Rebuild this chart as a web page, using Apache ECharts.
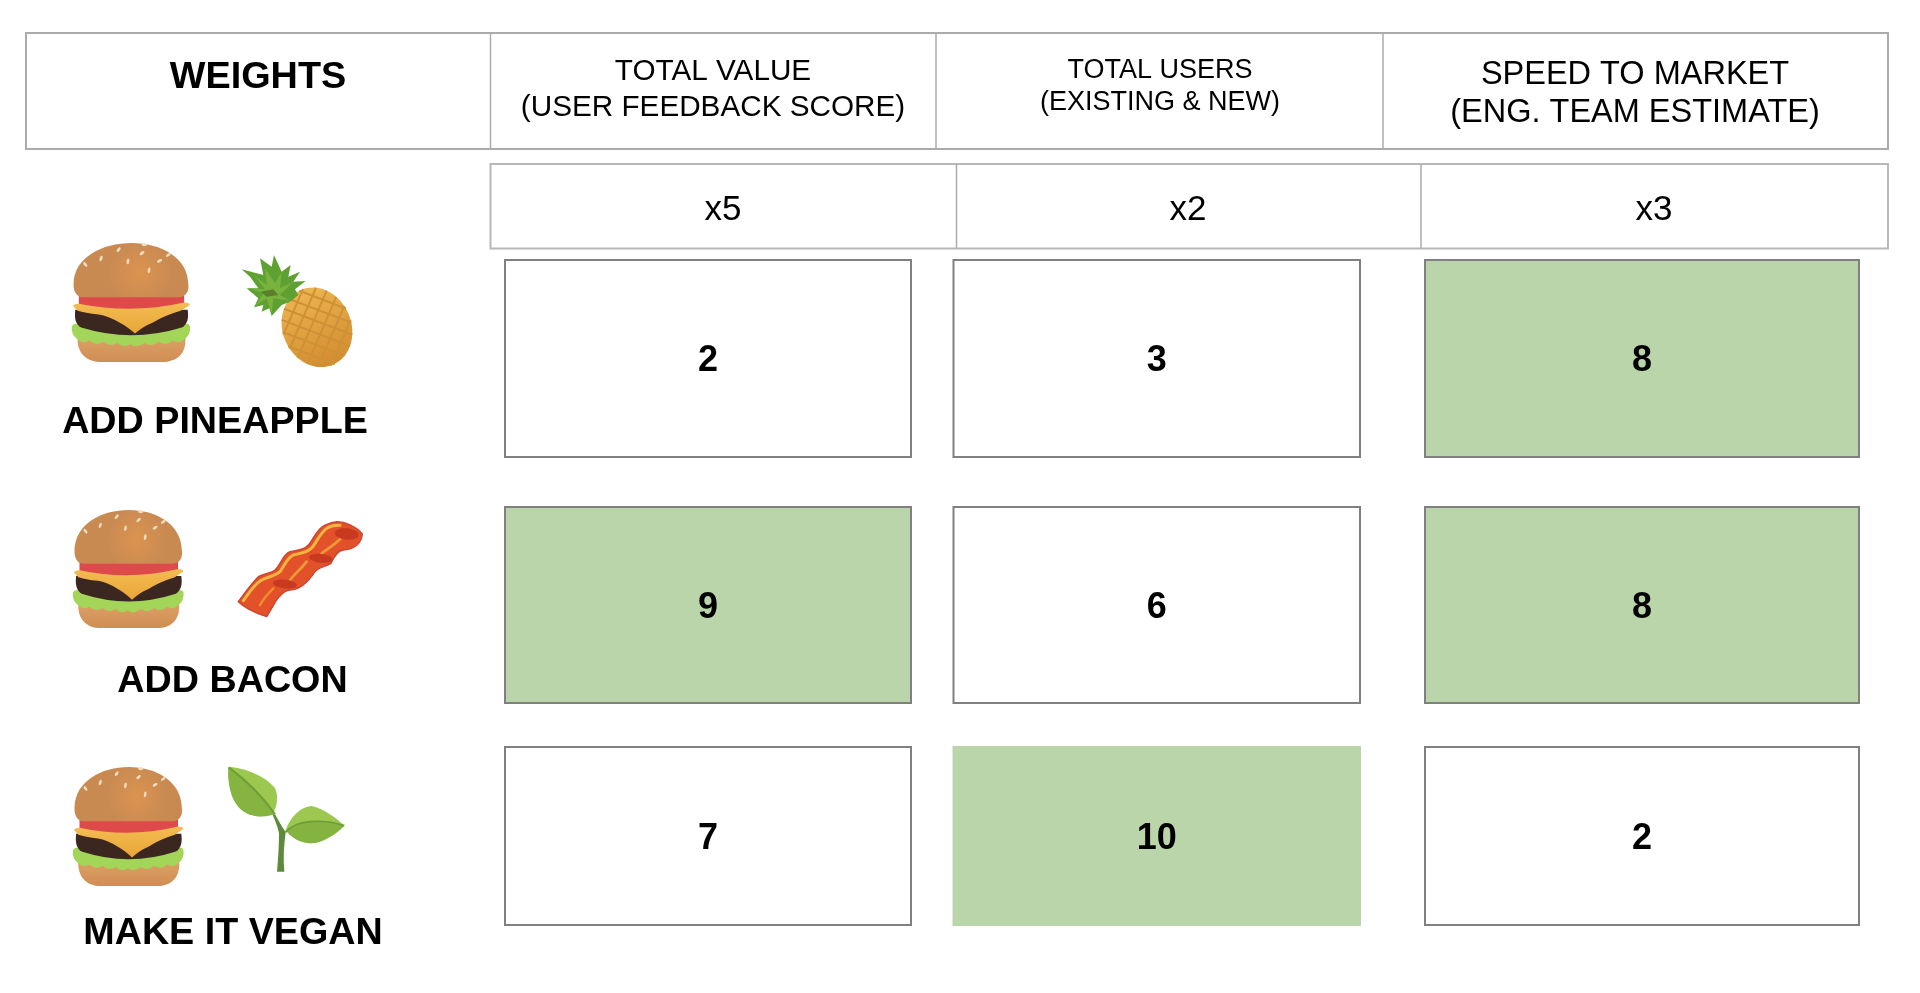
<!DOCTYPE html>
<html><head><meta charset="utf-8">
<style>html,body{margin:0;padding:0;background:#fff}#c{width:1920px;height:993px}</style>
<script src="https://cdn.jsdelivr.net/npm/echarts@6/dist/echarts.min.js"></script>
</head><body><div id="c"></div>
<script>
// ---- data ----
const headerTitle = 'WEIGHTS';
const criteria = ['TOTAL VALUE', 'TOTAL USERS', 'SPEED TO MARKET'];
const criteriaNotes = ['(USER FEEDBACK SCORE)', '(EXISTING & NEW)', '(ENG. TEAM ESTIMATE)'];
const weights = ['x5', 'x2', 'x3'];
const options = ['ADD PINEAPPLE', 'ADD BACON', 'MAKE IT VEGAN'];
const scoresPineapple = [2, 3, 8];
const scoresBacon = [9, 6, 8];
const scoresVegan = [7, 10, 2];
const allScores = [scoresPineapple, scoresBacon, scoresVegan];

// ---- layout (pixel space of the hidden value axes) ----
const HL = {x0: 26, x1: 1888, y0: 33, y1: 149, div: [490.5, 936, 1383]};
const WL = {x0: 490.5, x1: 1888, y0: 164, y1: 248.5, div: [956.5, 1421]};
const colEdges = [[505, 911], [953.5, 1360], [1425, 1859]];
const rowEdges = [[260, 457], [507, 703], [747, 925]];
const headCenters = [[713, 72, 108, 29.7], [1160, 71, 103, 27], [1635, 75, 113, 32.5]];
const weightCenters = [723, 1188, 1654];
const labelCenters = [[215, 423], [232.5, 682], [233, 934]];
const burgerBoxes = [[73, 243, 117, 119], [74, 510, 109.5, 118], [74, 767, 109.5, 119]];
const GREEN = '#BBD5AB', CELL_LINE = '#808080', HEAD_LINE = '#ABABAB', FONT = '"Liberation Sans", Arial, sans-serif';

// ---- hand-drawn emoji parts ----
const pth = (d, fill, extra) => ({type: 'path', shape: {pathData: d}, style: Object.assign({fill: fill}, extra || {})});
const vgrad = (a, b) => ({type: 'linear', x: 0, y: 0, x2: 0, y2: 1, colorStops: [{offset: 0, color: a}, {offset: 1, color: b}]});
const rgrad = (a, b) => ({type: 'radial', x: 0.58, y: 0.55, r: 0.6, colorStops: [{offset: 0, color: a}, {offset: 1, color: b}]});
function burgerParts() {
  const seeds = [[39, 5.6, 0.9], [24, 13, 1.2], [47, 15.5, 1.4], [59, 8.5, 0.7], [65, 23, 1.4], [74, 15, 0.5], [10.5, 18, -0.9], [81.5, 10, 0.6], [61, 1.5, 0]];
  const parts = [
    pth('M4,79 L96,79 C97,90 92,99 78,100 L22,100 C9,99 3,90 4,79 Z', vgrad('#DDA066', '#CF8E52')),
    pth('M-1,70 Q1,67 4,68 L96,68 Q99,67 100,70 Q101,77 95,81 Q90,85 85,82 Q80,87 73,83 Q68,88 61,84 Q55,89 49,85 Q43,89 38,84 Q32,88 26,83 Q20,87 14,82 Q9,85 4,81 Q-2,77 -1,70 Z', '#A2D558'),
    pth('M2,56 L98,56 C99,63 98,68 93,71 Q50,84 7,71 C2,68 1,63 2,56 Z', '#3B2620'),
    pth('M5,43 L95,43 L95,54 Q50,60 5,54 Z', '#DE4A4A'),
    pth('M0,53 Q1,51 5,51 Q50,60 95,50 Q99,50 100,52 L92,57 Q78,61 68,67 Q60,70 53,76 Q46,70 40,67 Q30,61 22,60 Q10,59 4,57 Z', vgrad('#F3BC52', '#E9A637')),
    pth('M0.5,34 C1,12 25,0 50,0 C75,0 98,12 98.5,34 C99.5,40 97,45.5 90,45.5 L8,45.5 C3,45.5 0,40 0.5,34 Z', rgrad('#DC9350', '#C98A52'))
  ];
  seeds.forEach(s => parts.push({type: 'ellipse', x: s[0], y: s[1], rotation: s[2], shape: {cx: 0, cy: 0, rx: 2.4, ry: 1.2}, style: {fill: '#EEDCBC'}}));
  return parts;
}
function pineappleParts() {
  // drawn at 3x around the anchor (50,230)
  const rx = 103, ry = 122, chords = [];
  [[0.72, 0.69], [-0.72, 0.69]].forEach(d => {
    const n = [-d[1], d[0]];
    [-84, -50, -17, 17, 50, 84].forEach(k => {
      const px = k * n[0], py = k * n[1];
      const a = d[0] * d[0] / (rx * rx) + d[1] * d[1] / (ry * ry);
      const b = 2 * (px * d[0] / (rx * rx) + py * d[1] / (ry * ry));
      const c = px * px / (rx * rx) + py * py / (ry * ry) - 1;
      const q = b * b - 4 * a * c;
      if (q <= 0) return;
      const t0 = (-b - Math.sqrt(q)) / (2 * a), t1 = (-b + Math.sqrt(q)) / (2 * a);
      chords.push('M' + (px + t0 * d[0]) + ',' + (py + t0 * d[1]) + 'L' + (px + t1 * d[0]) + ',' + (py + t1 * d[1]));
    });
  });
  return [
    {type: 'group', x: 801, y: 292, rotation: 0.4, children: [
      {type: 'ellipse', shape: {cx: 0, cy: 0, rx: rx, ry: ry}, style: {fill: vgrad('#EDB552', '#D28C2E')}},
      pth(chords.join(''), 'none', {stroke: '#CF9136', lineWidth: 6})
    ]},
    pth('M575,118 L640,135 L630,85 L665,110 L672,75 L695,125 L722,105 L715,140 L750,125 L730,155 L767,153 L735,178 L745,195 L720,215 L695,225 L665,258 L658,235 L635,245 L640,225 L612,232 L625,205 L590,175 L625,175 L600,140 Z', '#5FA032'),
    pth('M612,135 L650,165 L645,115 L675,160 L695,125 L690,175 L730,155 L690,195 L720,212 L670,205 L665,250 L650,205 L618,225 L640,190 L595,175 L645,178 Z', '#78B23F'),
    pth('M632,185 L670,178 L685,195 L650,200 Z', '#5D7F2C')
  ];
}
function baconParts() {
  // drawn at 3x around the anchor (225,510)
  return [
    pth('M335,35 C360,35 395,50 412,72 C410,95 395,118 355,120 C335,122 325,145 318,160 C300,170 280,172 270,185 C250,215 225,240 195,240 C175,240 165,258 155,270 C140,295 130,312 125,320 C95,310 60,295 40,275 C55,255 75,225 100,200 C120,188 140,190 150,180 C170,160 175,130 195,125 C225,118 235,120 250,105 C265,90 275,55 300,45 C312,40 325,36 335,35 Z', '#E2512A', {stroke: '#CC4430', lineWidth: 4}),
    pth('M55,272 C72,250 85,225 110,210 C130,200 150,198 165,185 C180,165 185,145 205,135 C230,128 245,130 262,112 C275,95 285,70 305,55 C318,47 330,45 345,46', 'none', {stroke: '#F4B63E', lineWidth: 9, lineCap: 'round'}),
    pth('M105,285 C115,265 130,250 145,235', 'none', {stroke: '#F08A2C', lineWidth: 8, lineCap: 'round'}),
    pth('M195,210 C210,190 230,175 245,155', 'none', {stroke: '#F09A35', lineWidth: 8, lineCap: 'round'}),
    pth('M290,130 C310,115 335,100 350,82', 'none', {stroke: '#F09A35', lineWidth: 8, lineCap: 'round'}),
    {type: 'ellipse', x: 180, y: 222, rotation: -0.1, shape: {cx: 0, cy: 0, rx: 36, ry: 13}, style: {fill: '#C83A20'}},
    {type: 'ellipse', x: 288, y: 145, rotation: -0.1, shape: {cx: 0, cy: 0, rx: 36, ry: 13}, style: {fill: '#C83A20'}},
    {type: 'ellipse', x: 365, y: 72, rotation: -0.1, shape: {cx: 0, cy: 0, rx: 36, ry: 17}, style: {fill: '#C83A20'}}
  ];
}
function sproutParts() {
  // drawn at 3x around the anchor (215,755)
  return [
    pth('M180,178 C190,195 200,215 212,232 C207,270 204,310 208,350 L186,350 C190,310 192,270 192,235 C188,215 180,195 172,178 Z', '#5E8A3C'),
    pth('M40,35 C85,38 150,60 180,100 C192,125 185,155 175,175 C150,188 100,190 70,155 C45,125 38,80 40,35 Z', '#9DC850'),
    pth('M42,38 C85,70 140,120 180,178 C150,188 100,190 70,155 C45,125 38,80 40,35 Z', '#86B440'),
    pth('M42,38 C85,70 140,120 180,178', 'none', {stroke: '#6F9E38', lineWidth: 6}),
    pth('M210,232 C222,190 255,155 290,153 C325,160 365,190 388,212 C360,240 320,265 285,265 C255,262 232,250 218,232 Z', '#9CC850'),
    pth('M212,232 C240,195 320,190 388,212 C360,240 320,265 285,265 C255,262 232,250 218,232 Z', '#85B33F'),
    pth('M212,232 C240,195 320,190 388,212', 'none', {stroke: '#6F9E38', lineWidth: 5})
  ];
}

// ---- series renderers ----
const rectAt = (api, x0, y0, x1, y1, style) => {
  const a = api.coord([x0, y0]), b = api.coord([x1, y1]);
  return {type: 'rect', shape: {x: a[0], y: a[1], width: b[0] - a[0], height: b[1] - a[1]}, style: style};
};
const textAt = (api, str, x, y, size, weight) => {
  const p = api.coord([x, y]);
  return {type: 'text', x: p[0], y: p[1], style: {text: str, fill: '#000', font: weight + ' ' + size + 'px ' + FONT, textAlign: 'center', textVerticalAlign: 'middle'}};
};
const vline = (api, x, y0, y1) => {
  const a = api.coord([x, y0]), b = api.coord([x, y1]);
  return {type: 'line', shape: {x1: a[0], y1: a[1], x2: b[0], y2: b[1]}, style: {stroke: HEAD_LINE, lineWidth: 1.5}};
};

const scoreData = [];
allScores.forEach((row, r) => row.forEach((v, c) => scoreData.push([c, r, v])));

function renderScore(params, api) {
  const c = api.value(0), r = api.value(1), v = api.value(2);
  const high = v >= 8, bare = v === 10;
  const [x0, x1] = colEdges[c], [y0, y1] = rowEdges[r];
  const cx = (x0 + x1) / 2, cy = (y0 + y1) / 2;
  return {type: 'group', children: [
    rectAt(api, x0, y0, x1, y1, {fill: high ? GREEN : '#fff', stroke: bare ? GREEN : CELL_LINE, lineWidth: 2}),
    textAt(api, String(v), cx, cy + 3, 36, 'bold')
  ]};
}
function renderFrame(params, api) {
  const kids = [
    rectAt(api, HL.x0, HL.y0, HL.x1, HL.y1, {fill: '#fff', stroke: HEAD_LINE, lineWidth: 2}),
    rectAt(api, WL.x0, WL.y0, WL.x1, WL.y1, {fill: '#fff', stroke: '#B8B8B8', lineWidth: 2}),
    textAt(api, headerTitle, 258, 77.5, 37.8, 'bold')
  ];
  HL.div.forEach(x => kids.push(vline(api, x, HL.y0, HL.y1)));
  WL.div.forEach(x => kids.push(vline(api, x, WL.y0, WL.y1)));
  criteria.forEach((t, i) => {
    const h = headCenters[i];
    kids.push(textAt(api, t, h[0], h[1], h[3], 'normal'), textAt(api, criteriaNotes[i], h[0], h[2], h[3], 'normal'));
  });
  weights.forEach((t, i) => kids.push(textAt(api, t, weightCenters[i], 210, 35, 'normal')));
  options.forEach((t, i) => kids.push(textAt(api, t, labelCenters[i][0], labelCenters[i][1], 37.7, 'bold')));
  return {type: 'group', children: kids};
}
function renderIcons(params, api) {
  const kids = [];
  burgerBoxes.forEach(b => {
    const p = api.coord([b[0], b[1]]);
    kids.push({type: 'group', x: p[0], y: p[1], scaleX: b[2] / 100, scaleY: b[3] / 100, children: burgerParts()});
  });
  [[50, 230, pineappleParts], [225, 510, baconParts], [215, 755, sproutParts]].forEach(i => {
    const a = api.coord([i[0], i[1]]);
    kids.push({type: 'group', x: a[0], y: a[1], scaleX: 1 / 3, scaleY: 1 / 3, children: i[2]()});
  });
  return {type: 'group', children: kids};
}

const chart = echarts.init(document.getElementById('c'), null, {width: 1920, height: 993});
chart.setOption({
  animation: false,
  backgroundColor: '#fff',
  tooltip: {show: false},
  grid: {left: 0, right: 0, top: 0, bottom: 0},
  xAxis: {type: 'value', min: 0, max: 1920, show: false},
  yAxis: {type: 'value', min: 0, max: 993, inverse: true, show: false},
  series: [
    {type: 'custom', name: 'frame', coordinateSystem: 'cartesian2d', clip: false, silent: true, data: [[0, 0]], encode: {x: 0, y: 1}, renderItem: renderFrame, z: 1},
    {type: 'custom', name: 'scores', coordinateSystem: 'cartesian2d', clip: false, silent: true, data: scoreData, encode: {x: -1, y: -1}, renderItem: renderScore, z: 2},
    {type: 'custom', name: 'icons', coordinateSystem: 'cartesian2d', clip: false, silent: true, data: [[0, 0]], encode: {x: 0, y: 1}, renderItem: renderIcons, z: 3}
  ]
});
</script></body></html>
